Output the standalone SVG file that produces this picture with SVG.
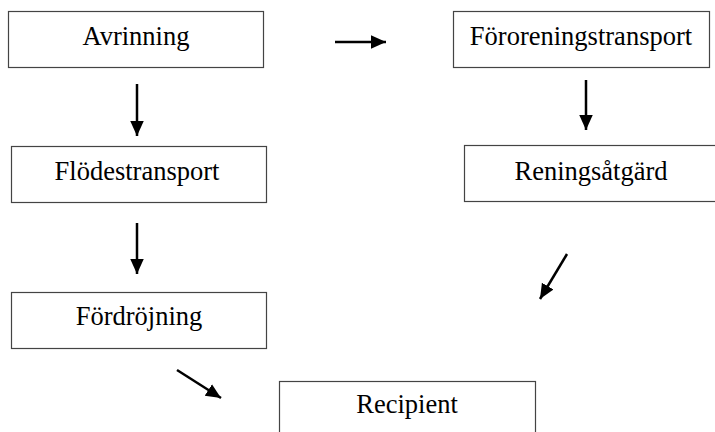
<svg xmlns="http://www.w3.org/2000/svg" width="715" height="432" viewBox="0 0 715 432">
<style>
.box{fill:#fff;stroke:#444;stroke-width:1.2}
.t{font-family:"Liberation Serif","Times New Roman",serif;font-size:26.5px;fill:#000;text-anchor:middle}
.c line{stroke:#000;stroke-width:2.5;marker-end:url(#ah)}
</style>
<defs>
<marker id="ah" markerWidth="8" markerHeight="8" refX="6" refY="4" orient="auto" markerUnits="strokeWidth">
<path d="M0,1.3 L6,4 L0,6.7 Z" fill="#000"/>
</marker>
</defs>
<rect width="715" height="432" fill="#fff"/>
<g id="avrinning"><rect class="box" x="8.5" y="11.5" width="255" height="56"/><text class="t" x="136" y="45">Avrinning</text></g>
<g id="fororeningstransport"><rect class="box" x="453.5" y="11.5" width="256" height="56"/><text class="t" x="581" y="45">Föroreningstransport</text></g>
<g id="reningsatgard"><rect class="box" x="464.5" y="145.5" width="260" height="56"/><text class="t" x="591" y="180">Reningsåtgärd</text></g>
<g id="flodestransport"><rect class="box" x="11.5" y="146.5" width="255" height="56"/><text class="t" x="137" y="180">Flödestransport</text></g>
<g id="fordrojning"><rect class="box" x="11.5" y="292.5" width="255" height="56"/><text class="t" x="139" y="325">Fördröjning</text></g>
<g id="recipient"><rect class="box" x="279.5" y="381.5" width="256" height="60"/><text class="t" x="407" y="413">Recipient</text></g>
<g class="c" id="connectors">
<line x1="335" y1="42" x2="386" y2="42"/>
<line x1="137" y1="84" x2="137" y2="136"/>
<line x1="586" y1="80" x2="586" y2="130"/>
<line x1="137" y1="223" x2="137" y2="274"/>
<line x1="177" y1="370" x2="221" y2="398"/>
<line x1="567" y1="254" x2="540" y2="299"/>
</g>
</svg>
